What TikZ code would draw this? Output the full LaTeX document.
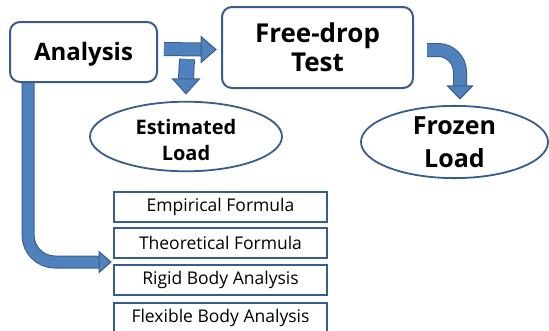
\documentclass[tikz,border=0pt]{standalone}
\usepackage{fontspec}
\setmainfont{Open Sans}
\usetikzlibrary{calc,shapes.geometric}
\definecolor{boxline}{HTML}{385D8A}
\definecolor{arrowfill}{HTML}{4F81BD}
\definecolor{arrowline}{HTML}{385D8A}
\tikzset{
  rbox/.style={draw=boxline, line width=2pt, rounded corners=10pt, fill=white, inner sep=0pt, align=center},
  ebox/.style={ellipse, draw=boxline, line width=1.8pt, fill=white, inner sep=0pt, align=center},
  lbox/.style={draw=boxline, line width=2pt, fill=white, inner sep=0pt, minimum width=213pt, minimum height=30pt, font=\fontsize{17.5}{20}\selectfont},
  shaft/.style={line width=#1, draw=arrowfill, preaction={draw=arrowline, line width=#1+2pt}},
  head/.style={fill=arrowfill, draw=arrowline, line width=1pt, line join=miter},
}
\begin{document}
\begin{tikzpicture}[x=1pt,y=-1pt]
\useasboundingbox (0,0) rectangle (549,330);
\node[rbox, minimum width=147pt, minimum height=60pt, font=\fontsize{24}{26}\selectfont\bfseries] (an) at (83.5,52) {\rule{0pt}{23pt}Analysis};
\node[rbox, minimum width=191pt, minimum height=81pt, font=\fontsize{26}{29}\selectfont\bfseries] (fd) at (317.5,47.5) {Free-drop\\Test};
\node[ebox, minimum width=192pt, minimum height=63pt, font=\fontsize{20}{26}\selectfont\bfseries] (est) at (186,136.5) {\rule{0pt}{23pt}Estimated\\Load};
\node[ebox, minimum width=187pt, minimum height=72pt, font=\fontsize{25}{33}\selectfont\bfseries] (frz) at (454.5,142) {Frozen\\Load};
\node[lbox] (b1) at (220.5,207) {Empirical Formula};
\node[lbox] (b2) at (220.5,243) {Theoretical Formula};
\node[lbox] (b3) at (220.5,280) {Rigid Body Analysis};
\node[lbox] (b4) at (220.5,318) {Flexible Body Analysis};
% Analysis -> Free-drop
\coordinate (rs) at ($(an.east)+(6,-3)$);
\coordinate (rt) at ($(fd.west)+(-5,2)$);
\draw[shaft=12pt] (rs) -- ($(rt)+(-15,0)$);
\filldraw[head] (rt) -- ++(-15,-13) -- ++(0,26) -- cycle;
% Analysis -> Estimated
\coordinate (ds) at ($(an.east)+(29,7)$);
\coordinate (dt) at ($(est.north)+(0,-7)$);
\draw[shaft=14pt] (ds) -- ($(dt)+(0,-15)$);
\filldraw[head] (dt) -- ++(-13.5,-15) -- ++(27,0) -- cycle;
% Free-drop -> Frozen
\coordinate (cs) at ($(fd.east)+(13,2.5)$);
\coordinate (ct) at ($(frz.north)+(5.5,-6)$);
\draw[shaft=12pt, rounded corners=22pt] (cs) -| ($(ct)+(0,-13)$);
\filldraw[head] (ct) -- ++(-12.5,-13) -- ++(25,0) -- cycle;
% Analysis -> bottom boxes
\coordinate (ls) at ($(an.south west)+(19,0)$);
\coordinate (lt) at ($(b3.north west)+(-2,-2)$);
\draw[shaft=11pt, rounded corners=27pt] (ls) |- ($(lt)+(-12,0)$);
\filldraw[head] (lt) -- ++(-12,-10.5) -- ++(0,21) -- cycle;
\end{tikzpicture}
\end{document}
